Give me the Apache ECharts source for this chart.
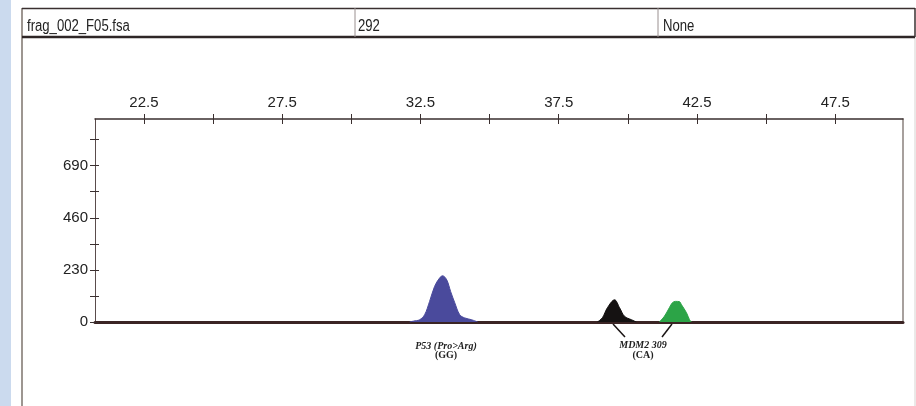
<!DOCTYPE html>
<html>
<head>
<meta charset="utf-8">
<script src="https://cdn.jsdelivr.net/npm/echarts@6/dist/echarts.min.js"></script>
<style>
  html, body { margin: 0; padding: 0; background: #fff; }
  #chart { width: 916px; height: 406px; }
</style>
</head>
<body>
<div id="chart"></div>
<script>
// 片段大小 (bp) 与 峰高 (RFU)
const p53Size = [32.11, 32.25, 32.47, 32.65, 32.83, 33.01, 33.19, 33.30, 33.45, 33.59, 33.74, 33.92, 34.10, 34.35, 34.57];
const p53Height = [0, 4, 10, 32, 91, 157, 194, 204, 186, 135, 85, 32, 18, 10, 0];

const mdmBlackSize = [38.90, 39.08, 39.26, 39.52, 39.70, 39.88, 40.13, 40.31];
const mdmBlackHeight = [0, 19, 63, 98, 63, 25, 10, 0];

const mdmGreenSize = [41.14, 41.32, 41.50, 41.61, 41.72, 41.86, 41.94, 42.12, 42.23, 42.30];
const mdmGreenHeight = [0, 25, 63, 85, 91, 90, 76, 41, 10, 0];

// 坐标轴刻度
const xTicks = [22.5, 25, 27.5, 30, 32.5, 35, 37.5, 40, 42.5, 45, 47.5];
const xLabels = [22.5, 27.5, 32.5, 37.5, 42.5, 47.5];
const yTicks = [0, 115, 230, 345, 460, 575, 690, 805];
const yLabels = [0, 230, 460, 690];

// 表头
const headerCells = ['frag_002_F05.fsa', '292', 'None'];

const xMin = 20.73, xMax = 49.95, yMin = 0, yMax = 896;

const pairs = (xs, ys) => xs.map((x, i) => [x, ys[i]]);

const sans = '"Liberation Sans", Arial, sans-serif';
const serif = '"Liberation Serif", "DejaVu Serif", serif';
const axisColor = '#3a2f2f';

let myChart = echarts.init(document.getElementById('chart'));

const peak = (name, xs, ys, color) => ({
    name: name,
    type: 'line',
    xAxisIndex: 0,
    yAxisIndex: 0,
    smooth: 0.35,
    symbol: 'none',
    lineStyle: { color: color, width: 1 },
    areaStyle: { color: color, opacity: 1 },
    data: pairs(xs, ys),
    z: 3
});

const headerText = (x, text) => ({
    type: 'text', x: x, y: 35, scaleX: 0.82, originX: 0,
    style: { text: text, fontSize: 16, fontFamily: sans, fill: '#222', textVerticalAlign: 'bottom' }
});

const note = (x, y, text, italic) => ({
    type: 'text', x: x, y: y,
    style: { text: text, fontSize: 10, fontStyle: italic ? 'italic' : 'normal', fontWeight: 'bold',
        fontFamily: serif, fill: '#222', align: 'center', verticalAlign: 'middle' }
});

myChart.setOption({
    animation: false,
    backgroundColor: '#fff',
    grid: { left: 95, right: 13, top: 119, bottom: 84 },
    xAxis: [
        {
            type: 'value', position: 'top', min: xMin, max: xMax,
            axisLine: { show: true, onZero: false, lineStyle: { color: axisColor, width: 1.5 } },
            axisTick: { show: true, inside: false, length: 5, customValues: xTicks, lineStyle: { color: axisColor, width: 1 } },
            axisLabel: { show: true, customValues: xLabels, margin: 9, fontSize: 15, color: '#222', fontFamily: sans,
                formatter: v => v.toFixed(1) },
            splitLine: { show: false }
        },
        {
            type: 'value', position: 'top', min: xMin, max: xMax,
            axisLine: { show: false, onZero: false },
            axisTick: { show: true, inside: true, length: 5, customValues: xTicks, lineStyle: { color: axisColor, width: 1 } },
            axisLabel: { show: false },
            splitLine: { show: false }
        },
        {
            type: 'value', position: 'bottom', min: xMin, max: xMax,
            axisLine: { show: true, onZero: false, lineStyle: { color: '#3b2424', width: 3 } },
            axisTick: { show: false },
            axisLabel: { show: false },
            splitLine: { show: false }
        }
    ],
    yAxis: [
        {
            type: 'value', position: 'left', min: yMin, max: yMax,
            axisLine: { show: true, onZero: false, lineStyle: { color: '#5a4c4c', width: 1 } },
            axisTick: { show: true, inside: false, length: 5, customValues: yTicks, lineStyle: { color: axisColor, width: 1 } },
            axisLabel: { show: true, customValues: yLabels, margin: 7, fontSize: 15, color: '#222', fontFamily: sans },
            splitLine: { show: false }
        },
        {
            type: 'value', position: 'left', min: yMin, max: yMax,
            axisLine: { show: false, onZero: false },
            axisTick: { show: true, inside: true, length: 4, customValues: yTicks, lineStyle: { color: axisColor, width: 1 } },
            axisLabel: { show: false },
            splitLine: { show: false }
        },
        {
            type: 'value', position: 'right', min: yMin, max: yMax,
            axisLine: { show: true, onZero: false, lineStyle: { color: '#8a807c', width: 1.5 } },
            axisTick: { show: false },
            axisLabel: { show: false },
            splitLine: { show: false }
        }
    ],
    series: [
        peak('P53', p53Size, p53Height, '#4a4a9c'),
        peak('MDM2 C', mdmBlackSize, mdmBlackHeight, '#151212'),
        peak('MDM2 A', mdmGreenSize, mdmGreenHeight, '#2ca447')
    ],
    graphic: [
        // 左侧浅蓝条
        { type: 'rect', left: 0, top: 0, shape: { width: 11, height: 406 }, style: { fill: '#cbdaee' }, silent: true },
        // 外框
        { type: 'line', shape: { x1: 22, y1: 8, x2: 22, y2: 406 }, style: { stroke: '#7d736d', lineWidth: 1.5 } },
        { type: 'line', shape: { x1: 915, y1: 37, x2: 915, y2: 406 }, style: { stroke: '#d6d2d0', lineWidth: 1 } },
        // 表头
        { type: 'line', shape: { x1: 22, y1: 8.5, x2: 915, y2: 8.5 }, style: { stroke: '#3a3030', lineWidth: 1.5 } },
        { type: 'line', shape: { x1: 22, y1: 37, x2: 915, y2: 37 }, style: { stroke: '#2e2626', lineWidth: 2.5 } },
        { type: 'line', shape: { x1: 915, y1: 8, x2: 915, y2: 37 }, style: { stroke: '#3a3030', lineWidth: 1.5 } },
        { type: 'line', shape: { x1: 355, y1: 8, x2: 355, y2: 37 }, style: { stroke: '#9a9090', lineWidth: 1 } },
        { type: 'line', shape: { x1: 658, y1: 8, x2: 658, y2: 37 }, style: { stroke: '#9a9090', lineWidth: 1 } },
        headerText(27, headerCells[0]),
        headerText(358, headerCells[1]),
        headerText(663, headerCells[2]),
        // 峰标注
        note(446, 346, 'P53 (Pro>Arg)', true),
        note(446, 355, '(GG)', false),
        note(643, 345, 'MDM2 309', true),
        note(643, 355, '(CA)', false),
        { type: 'line', shape: { x1: 613, y1: 324, x2: 625, y2: 337 }, style: { stroke: '#1a1414', lineWidth: 1.5 } },
        { type: 'line', shape: { x1: 672, y1: 324, x2: 662, y2: 337 }, style: { stroke: '#1a1414', lineWidth: 1.5 } }
    ]
});
</script>
</body>
</html>
